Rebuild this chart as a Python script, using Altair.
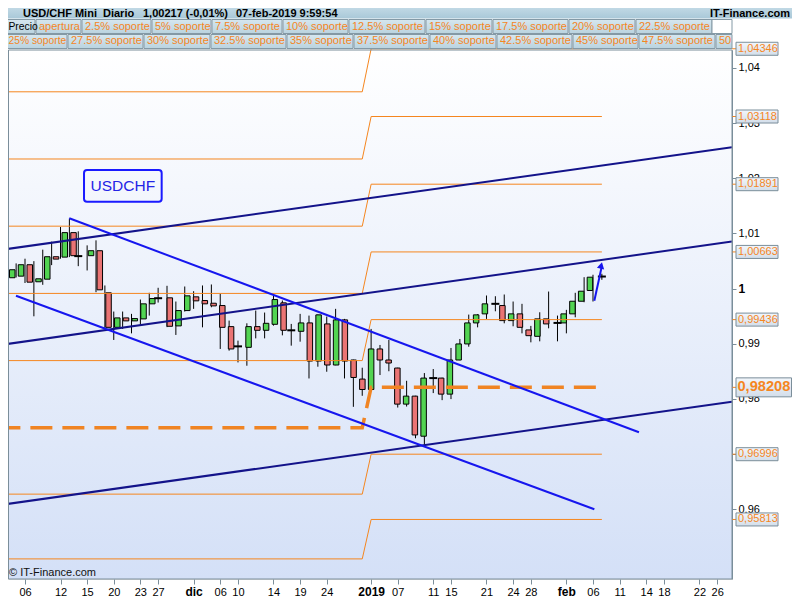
import altair as alt
import pandas as pd

# ---------------- data ----------------
# trading-session index: 0 = 06-nov-2018 ... 65 = 07-feb-2019
day_index = list(range(-2, 66))
open_px = [1.00195, 1.00224, 1.00431, 1.00122, 1.00169, 1.00576, 1.00569, 1.01013, 1.00587, 1.00595,
           1.00685, 0.99922, 0.99296, 0.99467, 0.99413, 0.99449, 0.99722, 0.99824, 0.99831, 0.99322,
           0.99600, 0.99849, 0.99782, 0.99733, 0.99691, 0.99309, 0.98951, 0.98933, 0.99309, 0.99242,
           0.99351, 0.99740, 0.99242, 0.99224, 0.99376, 0.98685, 0.99358, 0.98613, 0.99431, 0.98704,
           0.98358, 0.98169, 0.98904, 0.98704, 0.98558, 0.97904, 0.98049, 0.97322, 0.98376, 0.98376,
           0.98085, 0.98704, 0.98995, 0.99376, 0.99540, 0.99722, 0.99691, 0.99418, 0.99540, 0.99249,
           0.99133, 0.99449, 0.99376, 0.99376, 0.99540, 0.99769, 0.99964, 1.00217]
high_px = [1.00478, 1.00455, 1.00540, 1.00496, 1.00704, 1.00849, 1.01115, 1.01267, 1.01036, 1.00782,
           1.00873, 1.00055, 0.99582, 0.99582, 0.99540, 0.99800, 0.99922, 1.00013, 1.00049, 0.99764,
           1.00036, 0.99951, 1.00055, 1.00073, 0.99904, 0.99418, 0.99055, 0.99369, 0.99600, 0.99564,
           0.99873, 0.99782, 0.99358, 0.99540, 0.99509, 0.99527, 0.99491, 0.99631, 0.99449, 0.98709,
           0.98564, 0.99267, 0.98976, 0.99067, 0.98564, 0.98327, 0.98055, 0.98467, 0.98540, 0.98382,
           0.98922, 0.99085, 0.99527, 0.99536, 0.99873, 0.99860, 0.99891, 0.99764, 0.99722, 0.99322,
           0.99569, 0.99945, 0.99509, 0.99613, 0.99922, 1.00205, 1.00249, 1.00267]
low_px = [0.99660, 1.00200, 1.00100, 0.99496, 1.00067, 1.00424, 1.00540, 1.00569, 1.00405, 1.00327,
          0.99933, 0.99267, 0.99067, 0.99267, 0.99187, 0.99340, 0.99509, 0.99745, 0.99300, 0.99158,
          0.99582, 0.99631, 0.99296, 0.99660, 0.98904, 0.98873, 0.98660, 0.98600, 0.99096, 0.99096,
          0.99327, 0.99151, 0.98964, 0.99036, 0.98369, 0.98582, 0.98491, 0.98609, 0.98369, 0.97855,
          0.98055, 0.98164, 0.98431, 0.98500, 0.97842, 0.97860, 0.97285, 0.97164, 0.98104, 0.97976,
          0.97995, 0.98700, 0.98945, 0.99296, 0.99449, 0.99587, 0.99369, 0.99315, 0.99187, 0.99024,
          0.99042, 0.99278, 0.99042, 0.99187, 0.99478, 0.99751, 0.99764, 1.00158]
close_px = [1.00340, 1.00431, 1.00115, 1.00176, 1.00576, 1.00533, 1.01013, 1.00595, 1.00587, 1.00685,
            0.99976, 0.99296, 0.99467, 0.99413, 0.99455, 0.99722, 0.99818, 0.99824, 0.99315, 0.99600,
            0.99867, 0.99776, 0.99722, 0.99685, 0.99296, 0.98904, 0.98951, 0.99309, 0.99242, 0.99369,
            0.99800, 0.99242, 0.99242, 0.99376, 0.98685, 0.99522, 0.98613, 0.99431, 0.98685, 0.98387,
            0.98169, 0.98904, 0.98704, 0.98649, 0.97904, 0.98049, 0.97345, 0.98376, 0.98376, 0.98085,
            0.98704, 0.98995, 0.99376, 0.99522, 0.99722, 0.99722, 0.99418, 0.99540, 0.99296, 0.99145,
            0.99449, 0.99358, 0.99376, 0.99540, 0.99769, 0.99951, 1.00205, 1.00217]

tick_days = [0, 4, 7, 10, 13, 15, 19, 22, 24, 28, 31, 34, 39, 42, 46, 48, 52, 55, 57, 61, 64, 67, 70, 72, 76, 78]
tick_labels = ["06", "12", "15", "20", "23", "27", "dic", "06", "10", "14", "19", "24", "2019",
               "07", "11", "15", "21", "24", "28", "feb", "06", "11", "14", "18", "22", "26"]
bold_tick_days = [19, 39, 61]
price_ticks = [0.96, 0.97, 0.98, 0.99, 1.00, 1.01, 1.02, 1.03, 1.04]

# support levels: 2018 block and 2019 block
levels_2018 = [1.03566, 1.02348, 1.01130, 0.99911, 0.98693, 0.96272, 0.95098]
levels_2019 = [1.04346, 1.03118, 1.01891, 1.00663, 0.99436, 0.96996, 0.95813]
levels_2019_text = ["1,04346", "1,03118", "1,01891", "1,00663", "0,99436", "0,96996", "0,95813"]
open_2018 = 0.97475
open_2019 = 0.98208
open_2019_text = "0,98208"
level_days = [-3, 38, 39, 65]

# trend lines (day, price) end points
channel_days = [-2.817, 79.66]
channel_top = [1.006980, 1.025598]
channel_mid = [0.989757, 1.008521]
channel_low = [0.960751, 0.979478]
down_upper_days = [4.99, 69.18]
down_upper = [1.012727, 0.973930]
down_lower_days = [-1.014, 64.15]
down_lower = [0.998695, 0.959971]
arrow_days = [64.15, 64.98]
arrow_prices = [0.997788, 1.003952]
arrow_head_day = 64.93
arrow_head_price = 1.00417

note_text = "USDCHF"
note_days = [6.65, 15.4]
note_prices = [1.015736, 1.021483]

title_parts = ["USD/CHF Mini", "Diario", "1,00217 (-0,01%)", "07-feb-2019 9:59:54"]
legend_row1 = ["Precio", "apertura", "2.5% soporte", "5% soporte", "7.5% soporte", "10% soporte",
               "12.5% soporte", "15% soporte", "17.5% soporte", "20% soporte", "22.5% soporte", ""]
legend_row2 = ["25% soporte", "27.5% soporte", "30% soporte", "32.5% soporte", "35% soporte",
               "37.5% soporte", "40% soporte", "42.5% soporte", "45% soporte", "47.5% soporte", "50"]

# ---------------- layout (pixels, page coordinates) ----------------
OFFX, OFFY = 8, 50
title_x = [23, 103, 143, 236]
row1_edges = [(1, 35), (36, 81), (82, 151), (152, 211), (212, 282), (283, 348), (349, 425),
              (426, 492), (493, 568), (569, 635), (636, 712), (712, 732)]
row2_edges = [(1, 67), (68, 143), (144, 210), (211, 286), (287, 353), (354, 429), (430, 496),
              (497, 572), (573, 638), (639, 715), (716, 732)]

W, H = 724, 529
xs = alt.Scale(domain=[-1.9155, 79.662], nice=False, zero=False)
ys = alt.Scale(domain=[0.947335, 1.043238], nice=False, zero=False)

GRAY = "#7b8e9a"
ORANGE = "#f5861f"
GREEN = "#52d452"
RED = "#ea7474"
NAVY = "#13138a"
BLUE = "#1616ee"
FONT = "Liberation Sans"

bold_test = " || ".join(f"datum.value == {d}" for d in bold_tick_days)
xlabel_expr = ("[" + ",".join(f"'{s}'" for s in tick_labels) + "][indexof(["
               + ",".join(str(d) for d in tick_days) + "], datum.value)]")

x_axis = alt.Axis(values=tick_days, labelExpr=xlabel_expr, title=None, grid=False, domain=False,
                  tickColor=GRAY, tickSize=5, labelPadding=2, labelColor="black", labelFont=FONT,
                  labelFontSize={"condition": {"test": bold_test, "value": 12}, "value": 11},
                  labelFontWeight={"condition": {"test": bold_test, "value": "bold"}, "value": "normal"},
                  labelOverlap=False, labelFlush=False, labelBound=False)
y_axis = alt.Axis(orient="right", values=price_ticks, format=".2~f",
                  labelExpr="replace(datum.label, '.', ',')", title=None, grid=False,
                  domainColor=GRAY, tickColor=GRAY, tickSize=4, labelPadding=2, labelColor="black",
                  labelFont=FONT, labelBaseline="middle",
                  labelFontSize={"condition": {"test": "datum.value == 1", "value": 12}, "value": 11},
                  labelFontWeight={"condition": {"test": "datum.value == 1", "value": "bold"}, "value": "normal"},
                  labelOverlap=False, labelFlush=False)

one = pd.DataFrame({"k": [0]})

def grad(c0, c1):
    return alt.LinearGradient(gradient="linear",
                              stops=[alt.GradientStop(color=c0, offset=0), alt.GradientStop(color=c1, offset=1)],
                              x1=0, x2=0, y1=0, y2=1)

# ---------------- frames ----------------
candles = pd.DataFrame({"d": day_index, "o": open_px, "h": high_px, "l": low_px, "c": close_px})
candles["dir"] = ["up" if c > o else ("down" if c < o else "flat") for o, c in zip(open_px, close_px)]

lv_rows = []
for k, (a, b) in enumerate(zip(levels_2018, levels_2019)):
    for d, p in zip(level_days, [a, a, b, b]):
        lv_rows.append({"lvl": k, "d": d, "p": p})
levels_df = pd.DataFrame(lv_rows)
open_df = pd.DataFrame({"d": level_days, "p": [open_2018, open_2018, open_2019, open_2019]})

trend_rows = []
for name, days, prices in [("top", channel_days, channel_top), ("mid", channel_days, channel_mid),
                           ("low", channel_days, channel_low)]:
    for d, p in zip(days, prices):
        trend_rows.append({"line": name, "d": d, "p": p})
navy_df = pd.DataFrame(trend_rows)
blue_rows = []
for name, days, prices in [("u", down_upper_days, down_upper), ("l", down_lower_days, down_lower),
                           ("arrow", arrow_days, arrow_prices)]:
    for d, p in zip(days, prices):
        blue_rows.append({"line": name, "d": d, "p": p})
blue_df = pd.DataFrame(blue_rows)

right_df = pd.DataFrame({"p": levels_2019, "lbl": levels_2019_text})
open_lbl_df = pd.DataFrame({"p": [open_2019], "lbl": [open_2019_text]})

hdr_rows = []
for txt, (a, b) in zip(legend_row1, row1_edges):
    hdr_rows.append({"t": txt, "x1": a - OFFX, "x2": b - OFFX, "y1": 19.5 - OFFY, "y2": 33.5 - OFFY,
                     "ty": 26.7 - OFFY, "col": "black" if txt == "Precio" else ORANGE,
                     "white": txt == ""})
for txt, (a, b) in zip(legend_row2, row2_edges):
    hdr_rows.append({"t": txt, "x1": a - OFFX, "x2": b - OFFX, "y1": 34.5 - OFFY, "y2": 48.5 - OFFY,
                     "ty": 41.3 - OFFY, "col": ORANGE, "white": False})
hdr_df = pd.DataFrame(hdr_rows)
# first box of each row starts under the page margin: keep its text inside the visible area
hdr_df["tx"] = [max(x + 3, 0.5) for x in hdr_df["x1"]]
hdr_df["fs"] = [10.3 if x < 0 else 11 for x in hdr_df["x1"]]
title_df = pd.DataFrame({"t": title_parts, "x": [v - OFFX for v in title_x]})

X = lambda f="d:Q", axis=None: alt.X(f, scale=xs, axis=axis)
Y = lambda f, axis=None: alt.Y(f, scale=ys, axis=axis)

# ---------------- layers ----------------
bg = alt.Chart(one).mark_rect(fill=grad("#ffffff", "#d4e0f7")).encode(
    x=alt.value(0), x2=alt.value(W), y=alt.value(0), y2=alt.value(H))

wicks = alt.Chart(candles).mark_rule(color="black", strokeWidth=1, clip=True).encode(
    x=X("d:Q", x_axis), y=Y("l:Q", y_axis), y2="h:Q")
bodies = alt.Chart(candles).transform_filter("datum.o != datum.c").mark_bar(
    width=5.5, stroke="black", strokeWidth=1, clip=True).encode(
    x=X(), y=Y("o:Q"), y2="c:Q",
    fill=alt.Fill("dir:N", scale=alt.Scale(domain=["up", "down"], range=[GREEN, RED]), legend=None))
dojis = alt.Chart(candles).transform_filter("datum.o == datum.c").mark_tick(
    orient="horizontal", size=8, thickness=2, color="black", opacity=1, clip=True).encode(
    x=X(), y=Y("o:Q"))

lvl_lines = alt.Chart(levels_df).mark_line(color=ORANGE, strokeWidth=1).encode(
    x=X(), y=Y("p:Q"), detail="lvl:N")
open_line = alt.Chart(open_df).mark_line(color="#f08423", strokeWidth=3.5, strokeDash=[22, 10]).encode(
    x=X(), y=Y("p:Q"))

navy = alt.Chart(navy_df).mark_line(color=NAVY, strokeWidth=2, clip=True).encode(
    x=X(), y=Y("p:Q"), detail="line:N")
blue = alt.Chart(blue_df).mark_line(color=BLUE, strokeWidth=2, clip=True).encode(
    x=X(), y=Y("p:Q"), detail="line:N")
arrow_head = alt.Chart(pd.DataFrame({"d": [arrow_head_day], "p": [arrow_head_price]})).mark_point(
    shape="triangle-up", filled=True, size=55, angle=13, color=BLUE, opacity=1).encode(
    x=X(), y=Y("p:Q"))

note_df = pd.DataFrame({"d1": [note_days[0]], "d2": [note_days[1]], "p1": [note_prices[0]],
                        "p2": [note_prices[1]], "t": [note_text],
                        "dm": [(note_days[0] + note_days[1]) / 2], "pm": [(note_prices[0] + note_prices[1]) / 2]})
note_box = alt.Chart(note_df).mark_rect(fillOpacity=0, stroke="#1a1aff", strokeWidth=2, cornerRadius=3).encode(
    x=X("d1:Q"), x2="d2:Q", y=Y("p1:Q"), y2="p2:Q")
note_txt = alt.Chart(note_df).mark_text(fontSize=15.5, color="#2424e6", font=FONT, baseline="middle").encode(
    x=X("dm:Q"), y=Y("pm:Q"), text="t:N")

lvl_ticks = alt.Chart(pd.concat([right_df, open_lbl_df])).mark_rule(color=ORANGE, strokeWidth=1).encode(
    x=alt.value(W), x2=alt.value(W + 4), y=Y("p:Q"))
lvl_boxes = alt.Chart(right_df).transform_calculate(
    t="datum.p + 0.00118", b="datum.p - 0.00118").mark_rect(
    fill=grad("#f2f6fb", "#d3deea"), stroke=GRAY, strokeWidth=1).encode(
    x=alt.value(W + 4), x2=alt.value(W + 46), y=Y("t:Q"), y2="b:Q")
lvl_text = alt.Chart(right_df).mark_text(align="left", baseline="middle", fontSize=11, color=ORANGE,
                                          font=FONT).encode(
    x=alt.value(W + 6), y=Y("p:Q"), text="lbl:N")
open_box = alt.Chart(open_lbl_df).transform_calculate(
    t="datum.p + 0.00172", b="datum.p - 0.00172").mark_rect(
    fill=grad("#f2f6fb", "#d3deea"), stroke=GRAY, strokeWidth=1).encode(
    x=alt.value(W + 4), x2=alt.value(W + 59.5), y=Y("t:Q"), y2="b:Q")
open_text = alt.Chart(open_lbl_df).mark_text(align="left", baseline="middle", fontSize=14.6, fontWeight="bold",
                                             color=ORANGE, font=FONT).encode(
    x=alt.value(W + 5.5), y=Y("p:Q"), text="lbl:N")

border = alt.Chart(one).mark_rect(fillOpacity=0, stroke=GRAY, strokeWidth=1).encode(
    x=alt.value(0.5), x2=alt.value(W), y=alt.value(0), y2=alt.value(H))
copyright_txt = alt.Chart(one).mark_text(text="© IT-Finance.com", align="left", baseline="middle",
                                         fontSize=11, color="#111111", font=FONT).encode(
    x=alt.value(1), y=alt.value(523))

hdr_bar = alt.Chart(one).mark_rect(fill=grad("#d2e5ee", "#a9c8d8")).encode(
    x=alt.value(-8), x2=alt.value(792), y=alt.value(-50), y2=alt.value(-31.5))
hdr_title = alt.Chart(title_df).mark_text(align="left", baseline="middle", fontSize=11, fontWeight="bold",
                                          color="black", font=FONT).encode(
    x=alt.X("x:Q", scale=None, axis=None), y=alt.value(-36.3), text="t:N")
hdr_site = alt.Chart(one).mark_text(text="IT-Finance.com", align="right", baseline="middle", fontSize=11,
                                    fontWeight="bold", color="black", font=FONT).encode(
    x=alt.value(782), y=alt.value(-36.3))
hdr_boxes = alt.Chart(hdr_df).transform_filter("!datum.white").mark_rect(
    fill=grad("#d6e7ef", "#bad3df"), stroke="#8499a5", strokeWidth=1).encode(
    x=alt.X("x1:Q", scale=None, axis=None), x2="x2:Q",
    y=alt.Y("y1:Q", scale=None, axis=None), y2="y2:Q")
hdr_white = alt.Chart(hdr_df).transform_filter("datum.white").mark_rect(
    fill="white", stroke="#8499a5", strokeWidth=1).encode(
    x=alt.X("x1:Q", scale=None, axis=None), x2="x2:Q",
    y=alt.Y("y1:Q", scale=None, axis=None), y2="y2:Q")
hdr_text = alt.Chart(hdr_df).mark_text(align="left", baseline="middle", font=FONT).encode(
    x=alt.X("tx:Q", scale=None, axis=None), y=alt.Y("ty:Q", scale=None, axis=None), text="t:N",
    color=alt.Color("col:N", scale=None), size=alt.Size("fs:Q", scale=None, legend=None))

chart = alt.layer(
    bg, wicks, bodies, dojis, lvl_lines, open_line, navy, blue, arrow_head, note_box, note_txt,
    lvl_ticks, lvl_boxes, lvl_text, open_box, open_text, border, copyright_txt,
    hdr_bar, hdr_title, hdr_site, hdr_boxes, hdr_white, hdr_text
).resolve_scale(x="independent", y="independent").properties(
    width=W, height=H,
    autosize=alt.AutoSizeParams(type="none"),
    padding={"left": 0, "top": 42, "right": 60, "bottom": 21},
    background="white",
).configure_view(stroke=None).configure(font=FONT)

chart.save("out.html", embed_options={"renderer": "svg", "actions": False})
